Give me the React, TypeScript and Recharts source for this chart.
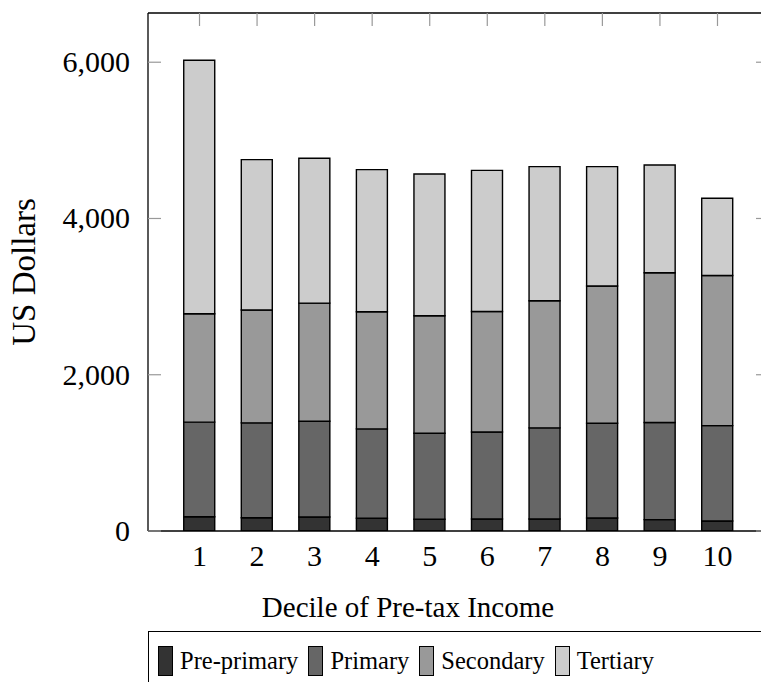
import { BarChart, Bar, XAxis, YAxis, Legend } from 'recharts'

const deciles = [1, 2, 3, 4, 5, 6, 7, 8, 9, 10]
const prePrimary = [183, 170, 179, 163, 150, 154, 154, 167, 145, 128]
const primary = [1210, 1214, 1226, 1144, 1102, 1114, 1166, 1213, 1243, 1221]
const secondary = [1387, 1444, 1512, 1499, 1503, 1542, 1627, 1755, 1918, 1922]
const tertiary = [3245, 1925, 1853, 1819, 1815, 1806, 1717, 1529, 1379, 987]
const yTicks = [0, 2000, 4000, 6000]

const series = [
  { key: 'prePrimary', name: 'Pre-primary', color: '#333333' },
  { key: 'primary', name: 'Primary', color: '#666666' },
  { key: 'secondary', name: 'Secondary', color: '#999999' },
  { key: 'tertiary', name: 'Tertiary', color: '#cccccc' }
]

const data = deciles.map((d, i) => ({
  decile: d,
  prePrimary: prePrimary[i],
  primary: primary[i],
  secondary: secondary[i],
  tertiary: tertiary[i]
}))

const font = '"Liberation Serif", "Times New Roman", serif'
const xDomain = [0.105, 10.895]
const yDomain = [0, 6630]
const fmt = (v: number) => v.toLocaleString('en-US')
const tickGray = '#999'

// left axis: label outside, tick mark pointing into the plot
const LeftTick = (props: any) => {
  const { x, y, payload } = props
  return (
    <g>
      <line x1={x + 18} x2={x + 31} y1={y} y2={y} stroke={tickGray} strokeWidth={1.2} />
      <text x={x} y={y} dy={10} textAnchor="end" fontSize={30} fill="#000" fontFamily={font}>
        {fmt(payload.value)}
      </text>
    </g>
  )
}

const TopTick = (props: any) => {
  const { x, y } = props
  return <line x1={x} x2={x} y1={y} y2={y + 13} stroke={tickGray} strokeWidth={1.2} />
}

const RightTick = (props: any) => {
  const { x, y } = props
  return <line x1={x} x2={x - 13} y1={y} y2={y} stroke={tickGray} strokeWidth={1.2} />
}

const LegendBox = () => (
  <div
    style={{
      width: 622,
      height: 60,
      border: '1.3px solid #000',
      boxSizing: 'border-box',
      display: 'flex',
      alignItems: 'center',
      paddingLeft: 9,
      fontFamily: font,
      fontSize: 24.5,
      color: '#000'
    }}
  >
    {series.map((s) => (
      <div key={s.key} style={{ display: 'flex', alignItems: 'center', marginRight: 10 }}>
        <span
          style={{
            display: 'inline-block',
            width: 15,
            height: 30,
            boxSizing: 'border-box',
            background: s.color,
            border: '1.5px solid #000',
            marginRight: 7
          }}
        />
        <span>{s.name}</span>
      </div>
    ))}
  </div>
)

export default function App() {
  return (
    <div
      style={{
        position: 'fixed',
        left: 0,
        top: 0,
        width: 761,
        height: 682,
        overflow: 'hidden',
        background: '#fff'
      }}
    >
      <BarChart
        width={800}
        height={700}
        data={data}
        margin={{ top: 12, right: 30, left: 0, bottom: 0 }}
        style={{ fontFamily: font }}
      >
        <XAxis
          dataKey="decile"
          type="number"
          domain={xDomain}
          allowDataOverflow
          ticks={deciles}
          height={169}
          tickLine={false}
          tickSize={0}
          tickMargin={14}
          tick={{ fontSize: 30, fill: '#000' }}
          axisLine={{ stroke: '#000', strokeWidth: 1.3 }}
          label={{
            content: () => (
              <text x={408} y={617} textAnchor="middle" fontSize={29} fill="#000" fontFamily={font}>
                Decile of Pre-tax Income
              </text>
            )
          }}
        />
        <XAxis
          xAxisId="top"
          dataKey="decile"
          type="number"
          orientation="top"
          domain={xDomain}
          allowDataOverflow
          ticks={deciles}
          height={1}
          tickLine={false}
          tickSize={0}
          tickMargin={0}
          tick={<TopTick />}
          axisLine={{ stroke: '#000', strokeWidth: 1.3 }}
        />
        <YAxis
          type="number"
          domain={yDomain}
          allowDataOverflow
          ticks={yTicks}
          width={148}
          tickLine={false}
          tickSize={0}
          tickMargin={18}
          tick={<LeftTick />}
          axisLine={{ stroke: '#000', strokeWidth: 1.3 }}
          label={{
            content: () => (
              <text
                x={35}
                y={272}
                textAnchor="middle"
                fontSize={33}
                fill="#000"
                fontFamily={font}
                transform="rotate(-90, 35, 272)"
              >
                US Dollars
              </text>
            )
          }}
        />
        <YAxis
          yAxisId="r"
          orientation="right"
          type="number"
          domain={yDomain}
          allowDataOverflow
          ticks={yTicks}
          width={1}
          tickLine={false}
          tickSize={0}
          tickMargin={0}
          tick={<RightTick />}
          axisLine={{ stroke: '#000', strokeWidth: 1.3 }}
        />
        {series.map((s) => (
          <Bar
            key={s.key}
            dataKey={s.key}
            name={s.name}
            stackId="a"
            fill={s.color}
            stroke="#000"
            strokeWidth={1.4}
            barSize={31}
            isAnimationActive={false}
          />
        ))}
        <Legend
          layout="horizontal"
          verticalAlign="middle"
          align="center"
          content={<LegendBox />}
          wrapperStyle={{ position: 'absolute', left: 148, top: 631, width: 622 }}
        />
      </BarChart>
    </div>
  )
}
